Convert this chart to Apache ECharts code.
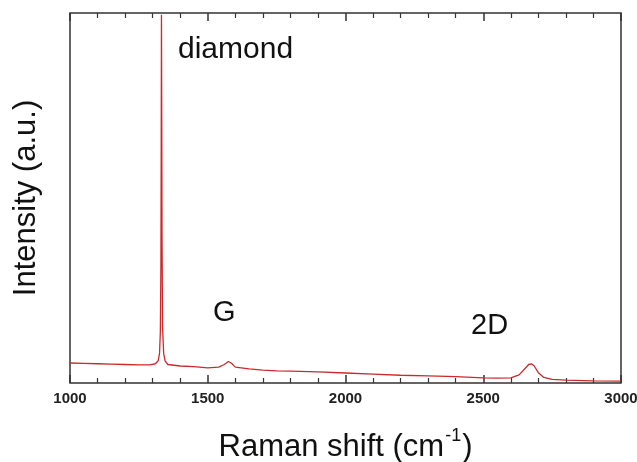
<!DOCTYPE html>
<html>
<head>
<meta charset="utf-8">
<script src="https://cdn.jsdelivr.net/npm/echarts@6/dist/echarts.min.js"></script>
<style>
  html, body { margin: 0; padding: 0; background: #fff; }
  #chart { width: 637px; height: 462px; }
</style>
</head>
<body>
<div id="chart"></div>
<script>
// Raman shift (cm-1) and intensity (a.u., 0-100 scale)
var shift = [1000, 1050, 1100, 1150, 1200, 1250, 1290, 1310, 1320, 1325, 1328, 1330, 1331, 1332, 1333, 1334, 1336, 1340, 1345, 1355,
  1400, 1450, 1500, 1540, 1560, 1575, 1585, 1600, 1650, 1700, 1750, 1800, 1900, 2000, 2100, 2200, 2300, 2400, 2500, 2550,
  2600, 2630, 2650, 2665, 2675, 2685, 2700, 2720, 2750, 2800, 2900, 3000];
var intensity = [5.4, 5.3, 5.2, 5.1, 5.0, 4.9, 4.9, 5.2, 6.0, 8, 14, 32, 62, 99.5, 72, 40, 15, 8, 6, 5.0,
  4.6, 4.4, 4.1, 4.3, 5.0, 5.8, 5.4, 4.3, 3.8, 3.5, 3.3, 3.2, 3.0, 2.7, 2.4, 2.1, 1.9, 1.7, 1.4, 1.3,
  1.4, 2.2, 3.8, 5.0, 5.2, 4.6, 2.8, 1.5, 1.0, 0.8, 0.6, 0.5];
var xTicks = [1000, 1500, 2000, 2500, 3000];

var FONT = '"Liberation Sans", Arial, sans-serif';
var chart = echarts.init(document.getElementById('chart'));

var points = shift.map(function (s, i) { return [s, intensity[i]]; });

chart.setOption({
  animation: false,
  grid: {
    left: 70, right: 16, top: 13, bottom: 79,
    containLabel: false, outerBoundsMode: 'none',
    show: true, borderColor: '#333', borderWidth: 1.5
  },
  xAxis: [
    {
      type: 'value', min: 1000, max: 3000, interval: 500,
      axisLine: { show: false },
      axisTick: { inside: true, length: 8, lineStyle: { color: '#333', width: 1.5 } },
      minorTick: { show: true, splitNumber: 5, length: 5, lineStyle: { color: '#333', width: 1.2 } },
      splitLine: { show: false },
      axisLabel: {
        margin: 8, color: '#222', fontSize: 15, fontWeight: 'bold', fontFamily: FONT,
        formatter: function (v) { return xTicks.indexOf(v) >= 0 ? String(v) : ''; }
      },
      name: '{a|Raman shift (cm}{s|-1}{a|)}',
      nameLocation: 'middle', nameGap: 44,
      nameTextStyle: {
        rich: {
          a: { fontSize: 31, color: '#111', fontFamily: FONT },
          s: { fontSize: 18, color: '#111', fontFamily: FONT, verticalAlign: 'top', padding: [0, 1, 22, 1] }
        }
      }
    },
    {
      type: 'value', position: 'top', min: 1000, max: 3000, interval: 500,
      axisLine: { show: false },
      axisTick: { inside: true, length: 8, lineStyle: { color: '#333', width: 1.5 } },
      minorTick: { show: true, splitNumber: 5, length: 5, lineStyle: { color: '#333', width: 1.2 } },
      splitLine: { show: false },
      axisLabel: { show: false }
    }
  ],
  yAxis: {
    type: 'value', min: 0, max: 100,
    axisLine: { show: false }, axisTick: { show: false },
    axisLabel: { show: false }, splitLine: { show: false },
    name: 'Intensity (a.u.)', nameLocation: 'middle', nameGap: 28,
    nameTextStyle: { fontSize: 31, color: '#111', fontFamily: FONT }
  },
  series: [{
    type: 'line',
    data: points,
    showSymbol: false,
    lineStyle: { color: '#cc2a2a', width: 1.3 }
  }],
  graphic: [
    { type: 'text', left: 178, top: 35, style: { text: 'diamond', fontSize: 30, fill: '#111', fontFamily: FONT } },
    { type: 'text', left: 213, top: 298, style: { text: 'G', fontSize: 29, fill: '#111', fontFamily: FONT } },
    { type: 'text', left: 471, top: 311, style: { text: '2D', fontSize: 29, fill: '#111', fontFamily: FONT } }
  ]
});
</script>
</body>
</html>
